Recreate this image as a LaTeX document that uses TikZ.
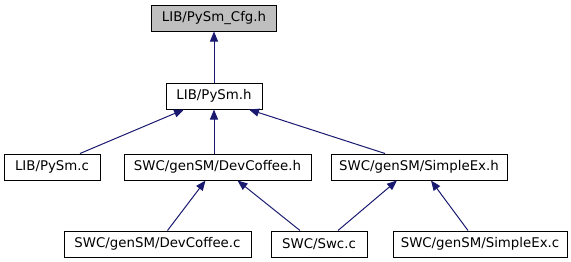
\documentclass[tikz,border=0pt]{standalone}
\usepackage{fontspec}
\setmainfont{DejaVu Sans}
\usetikzlibrary{arrows.meta,calc}
\definecolor{edgeblue}{HTML}{191970}
\definecolor{mainfill}{HTML}{BFBFBF}
\tikzset{
  file/.style={draw=black, line width=0.75pt, fill=white, inner sep=0pt,
    minimum height=19.5pt, font=\fontsize{10pt}{12pt}\selectfont},
  mainfile/.style={file, fill=mainfill},
  incl/.style={draw=edgeblue, line width=0.75pt,
    -{Triangle[length=7.5pt,width=6pt]}, color=edgeblue},
}
\begin{document}
\begin{tikzpicture}[x=0.75pt,y=-0.75pt]
  \useasboundingbox (0,0) rectangle (571,261);
  % files
  \node[mainfile, minimum width=93.75pt] (cfg)   at (214,18)    {LIB/PySm\_Cfg.h};
  \node[file, minimum width=72pt]        (pysmh) at (214,96)    {LIB/PySm.h};
  \node[file, minimum width=72pt]        (pysmc) at (52,167)    {LIB/PySm.c};
  \node[file, minimum width=140.25pt]    (devh)  at (217.5,167) {SWC/genSM/DevCoffee.h};
  \node[file, minimum width=132pt]       (simh)  at (419,167)   {SWC/genSM/SimpleEx.h};
  \node[file, minimum width=140.25pt]    (devc)  at (157.5,244) {SWC/genSM/DevCoffee.c};
  \node[file, minimum width=72pt]        (swc)   at (319,244)   {SWC/Swc.c};
  \node[file, minimum width=130.5pt]     (simc)  at (480,244)   {SWC/genSM/SimpleEx.c};
  % include dependencies
  \draw[incl] (pysmh.north) -- (cfg.south);
  \draw[incl] ($(pysmc.north)+(28,0)$) -- ($(pysmh.south)+(-30,0)$);
  \draw[incl] (devh.north -| pysmh.south) -- (pysmh.south);
  \draw[incl] ($(simh.north)+(-34,0)$) -- ($(pysmh.south)+(35,0)$);
  \draw[incl] ($(devc.north)+(10,0)$) -- ($(devh.south)+(-12,0)$);
  \draw[incl] ($(swc.north)+(-19,0)$) -- ($(devh.south)+(20,0)$);
  \draw[incl] ($(swc.north)+(19,0)$) -- ($(simh.south)+(-22,0)$);
  \draw[incl] ($(simc.north)+(-12,0)$) -- ($(simh.south)+(12,0)$);
\end{tikzpicture}
\end{document}
